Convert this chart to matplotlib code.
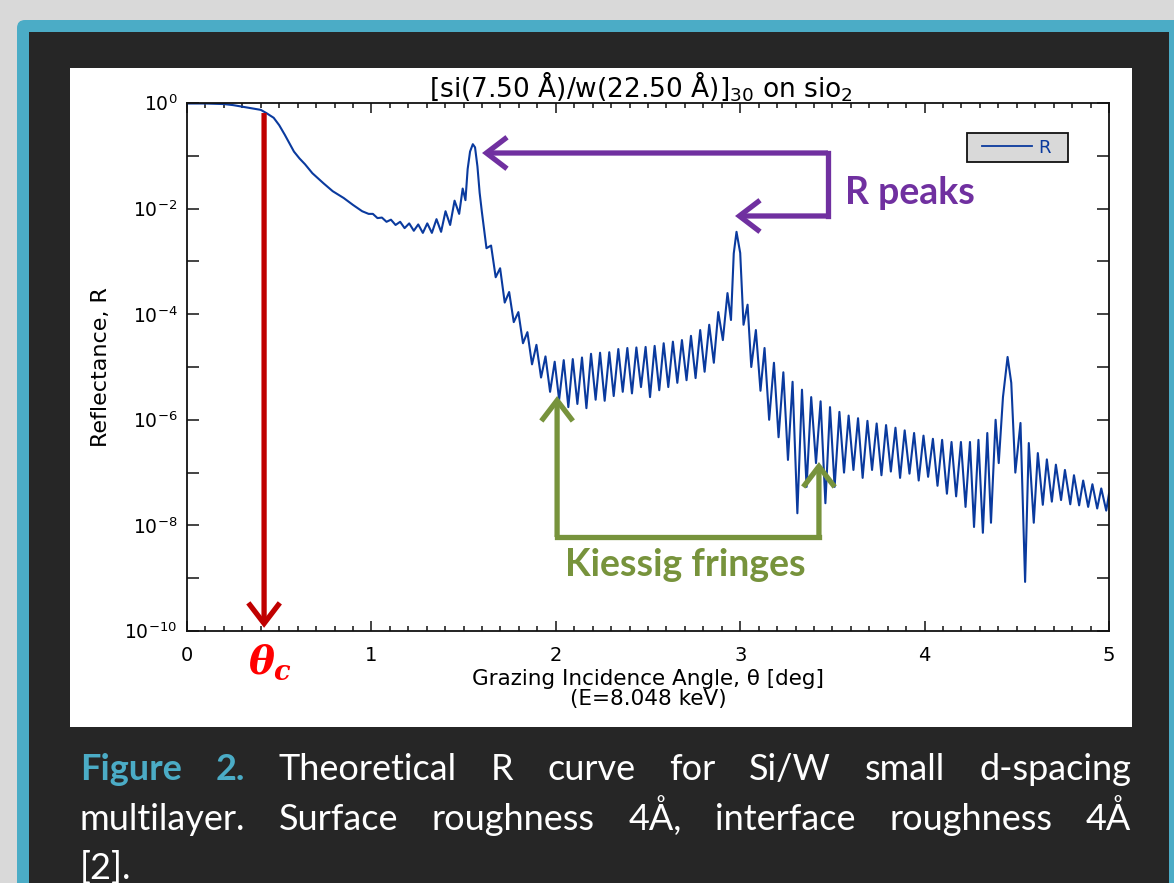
import matplotlib
matplotlib.use("Agg")
import numpy as np
import matplotlib.pyplot as plt
from matplotlib.patches import FancyBboxPatch, Rectangle
from matplotlib.ticker import MultipleLocator, NullLocator, FixedLocator, FixedFormatter
from matplotlib.legend_handler import HandlerLine2D

# ---------------- data ----------------
# total-reflection plateau and fall-off (degrees, log10 R)
theta_total = [0.00, 0.10, 0.20, 0.25, 0.30, 0.35, 0.40, 0.43, 0.47, 0.50, 0.53, 0.555,
               0.58, 0.61, 0.64, 0.68, 0.74, 0.79, 0.85, 0.90, 0.95, 0.985]
logR_total = [-0.01, -0.01, -0.02, -0.04, -0.07, -0.10, -0.13, -0.19, -0.28, -0.42, -0.60, -0.76,
              -0.92, -1.05, -1.16, -1.33, -1.52, -1.67, -1.80, -1.93, -2.05, -2.10]

# fringes up to first Bragg peak
theta_seg1 = [1.008, 1.033, 1.057, 1.082, 1.106, 1.131, 1.156, 1.180, 1.205, 1.230,
              1.254, 1.279, 1.303, 1.328, 1.353, 1.378, 1.402, 1.427, 1.451, 1.476,
              1.495, 1.510, 1.522, 1.535, 1.550]
logR_seg1 = [-2.10, -2.18, -2.17, -2.25, -2.21, -2.31, -2.25, -2.37, -2.28, -2.42,
             -2.30, -2.46, -2.28, -2.46, -2.20, -2.44, -2.05, -2.31, -1.85, -2.10,
             -1.62, -1.84, -1.25, -0.92, -0.78]

# Kiessig fringes between first and second Bragg peak
theta_seg2 = [1.562, 1.575, 1.587, 1.599, 1.624, 1.649, 1.674, 1.698, 1.723, 1.747,
              1.772, 1.797, 1.822, 1.846, 1.871, 1.895, 1.920, 1.944, 1.969, 1.994,
              2.018, 2.043, 2.068, 2.092, 2.117, 2.142, 2.166, 2.191, 2.216, 2.240,
              2.265, 2.290, 2.314, 2.339, 2.363, 2.388, 2.413, 2.437, 2.462, 2.487,
              2.511, 2.536, 2.561, 2.585, 2.610, 2.635, 2.659, 2.684, 2.709, 2.733,
              2.758, 2.783, 2.807, 2.832, 2.857, 2.881, 2.906, 2.931, 2.950, 2.965,
              2.980]
logR_seg2 = [-0.84, -1.20, -1.70, -2.06, -2.75, -2.70, -3.30, -3.13, -3.78, -3.58,
             -4.15, -3.96, -4.55, -4.34, -4.95, -4.58, -5.20, -4.80, -5.47, -4.90,
             -5.62, -4.87, -5.76, -4.85, -5.70, -4.82, -5.78, -4.75, -5.62, -4.73,
             -5.64, -4.72, -5.55, -4.66, -5.47, -4.64, -5.50, -4.63, -5.38, -4.62,
             -5.57, -4.60, -5.44, -4.55, -5.38, -4.52, -5.30, -4.49, -5.25, -4.41,
             -5.21, -4.30, -5.09, -4.20, -4.92, -3.96, -4.49, -3.60, -4.11, -2.85,
             -2.44]

# Kiessig fringes between second and third Bragg peak
theta_seg3 = [3.000, 3.018, 3.040, 3.060, 3.085, 3.110, 3.132, 3.157, 3.183, 3.208,
              3.234, 3.259, 3.284, 3.310, 3.335, 3.360, 3.385, 3.411, 3.436, 3.462,
              3.487, 3.512, 3.538, 3.563, 3.588, 3.614, 3.639, 3.664, 3.690, 3.715,
              3.740, 3.766, 3.791, 3.817, 3.842, 3.867, 3.892, 3.918, 3.943, 3.968,
              3.994, 4.019, 4.045, 4.070, 4.095, 4.121, 4.146, 4.171, 4.197, 4.222,
              4.246, 4.268, 4.292, 4.316, 4.340, 4.360, 4.385, 4.402, 4.425, 4.450]
logR_seg3 = [-2.84, -4.20, -3.82, -5.00, -4.30, -5.45, -4.64, -6.00, -4.92, -6.33,
             -5.10, -6.76, -5.28, -7.77, -5.43, -7.27, -5.57, -6.82, -5.65, -7.58,
             -5.76, -7.27, -5.85, -7.00, -5.92, -6.95, -5.97, -7.10, -6.02, -6.95,
             -6.07, -7.05, -6.10, -6.98, -6.15, -7.10, -6.20, -7.02, -6.25, -7.15,
             -6.30, -7.08, -6.36, -7.25, -6.38, -7.40, -6.42, -7.45, -6.42, -7.65,
             -6.42, -8.03, -6.38, -8.14, -6.25, -7.95, -6.00, -6.82, -5.57, -4.81]

# tail after third Bragg peak
theta_seg4 = [4.470, 4.492, 4.520, 4.545, 4.565, 4.592, 4.614, 4.641, 4.663, 4.690,
              4.712, 4.740, 4.761, 4.790, 4.810, 4.838, 4.860, 4.887, 4.910, 4.936,
              4.958, 4.985, 5.000]
logR_seg4 = [-5.30, -7.00, -6.06, -9.07, -6.44, -7.95, -6.63, -7.61, -6.75, -7.55,
             -6.85, -7.52, -6.95, -7.60, -7.05, -7.62, -7.15, -7.65, -7.22, -7.68,
             -7.30, -7.72, -7.40]

x_ticks = [0, 1, 2, 3, 4, 5]
x_ticklabels = ["0", "1", "2", "3", "4", "5"]
y_decades = list(range(0, -11, -1))
y_ticklabels = [r"$10^{%d}$" % d if d % 2 == 0 else "" for d in y_decades]

title = r"[si(7.50 Å)/w(22.50 Å)]$_{30}$ on sio$_2$"
xlabel = "Grazing Incidence Angle, θ [deg]\n(E=8.048 keV)"
ylabel = "Reflectance, R"

caption_line1 = ["Figure", "2.", "Theoretical", "R", "curve", "for", "Si/W", "small", "d-spacing"]
caption_line2 = ["multilayer.", "Surface", "roughness", "4Å,", "interface", "roughness", "4Å"]
caption_line3 = ["[2]."]

# ---------------- style ----------------
W, H = 1174, 883
plt.rcParams["mathtext.fontset"] = "custom"
plt.rcParams["mathtext.rm"] = "DejaVu Sans"
plt.rcParams["mathtext.it"] = "DejaVu Serif:italic:bold"
plt.rcParams["mathtext.bf"] = "DejaVu Sans:bold"

BG = "#d9d9d9"
TEAL = "#4bacc6"
DARK = "#262626"
LINE = "#0a3a9e"
RED = "#c00000"
PURPLE = "#7030a0"
GREEN = "#77933c"

fig = plt.figure(figsize=(W / 100, H / 100), dpi=100, facecolor=BG)

# slide-like frame
fig.add_artist(FancyBboxPatch((0.17, -0.5), 12.0, 8.63 + 0.5,
                              boxstyle="round,pad=0,rounding_size=0.08",
                              transform=fig.dpi_scale_trans, fc=TEAL, ec="none", zorder=-10))
fig.add_artist(Rectangle((0.29, -0.5), 11.40, 8.51 + 0.5, transform=fig.dpi_scale_trans,
                         fc=DARK, ec="none", zorder=-9))
fig.add_artist(Rectangle((0.70, 1.56), 10.62, 6.59, transform=fig.dpi_scale_trans,
                         fc="white", ec="none", zorder=-8))

ax = fig.add_axes([187 / W, 1 - 631 / H, 922 / W, 528 / H])
ax.set_facecolor("white")

theta_all = np.concatenate([theta_total, theta_seg1, theta_seg2, theta_seg3, theta_seg4])
R_all = 10.0 ** np.concatenate([logR_total, logR_seg1, logR_seg2, logR_seg3, logR_seg4])

line, = ax.plot(theta_all, R_all, color=LINE, lw=1.5, label="R")

ax.set_yscale("log")
ax.set_xlim(0, 5)
ax.set_ylim(1e-10, 1)

ax.xaxis.set_major_locator(FixedLocator(x_ticks))
ax.xaxis.set_major_formatter(FixedFormatter(x_ticklabels))
ax.xaxis.set_minor_locator(MultipleLocator(0.1))
ax.yaxis.set_major_locator(FixedLocator([10.0 ** d for d in y_decades]))
ax.yaxis.set_major_formatter(FixedFormatter(y_ticklabels))
ax.yaxis.set_minor_locator(NullLocator())

ax.tick_params(which="both", direction="in", top=True, right=True, width=1.1, color="#111111")
ax.tick_params(axis="x", which="major", length=7.5, pad=11, labelsize=14)
ax.tick_params(axis="x", which="minor", length=3.5)
ax.tick_params(axis="y", which="major", length=8.5, pad=7, labelsize=13.5)
for s in ax.spines.values():
    s.set_linewidth(1.3)
    s.set_color("#111111")

ax.set_title(title, fontsize=19, pad=1, x=0.4925)
ax.set_xlabel(xlabel, fontsize=15.5, linespacing=0.95, labelpad=3)
ax.set_ylabel(ylabel, fontsize=16, labelpad=10)

leg = ax.legend(handles=[line], labels=["R  "], loc="upper right", bbox_to_anchor=(0.9555, 0.943),
                borderaxespad=0, frameon=True, fancybox=False, facecolor="#d9d9d9",
                edgecolor="#111111", framealpha=1, handlelength=3.3, handletextpad=0.35,
                borderpad=0.3, fontsize=13, labelcolor=LINE,
                handler_map={line: HandlerLine2D(xpad=0.5)})
leg.get_frame().set_linewidth(1.3)
for h in leg.legend_handles:
    h.set_linewidth(1.3)

# ---------------- annotations ----------------
def arrow(x0, y0, x1, y1, color):
    ax.annotate("", xy=(x1, 10 ** y1), xytext=(x0, 10 ** y0),
                arrowprops=dict(arrowstyle="->,head_length=0.55,head_width=0.42", lw=3.8,
                                color=color, shrinkA=0, shrinkB=0, mutation_scale=27,
                                capstyle="butt", joinstyle="miter"),
                annotation_clip=False)

arrow(0.418, -0.19, 0.418, -9.94, RED)
ax.text(0.45, 10 ** -10.59, r"$\theta_c$", color="#ff0000", fontsize=28,
        ha="center", va="center", clip_on=False)

arrow(3.476, -0.947, 1.600, -0.947, PURPLE)
ax.plot([3.476, 3.476], [10 ** -0.947, 10 ** -2.14], color=PURPLE, lw=3.8,
        solid_capstyle="projecting")
arrow(3.476, -2.14, 2.972, -2.14, PURPLE)
ax.text(3.568, 10 ** -1.70, "R peaks", color=PURPLE, fontsize=27, family="Lato",
        weight="bold", ha="left", va="center")

arrow(2.007, -8.22, 2.007, -5.55, GREEN)
ax.plot([2.007, 3.427], [10 ** -8.22, 10 ** -8.22], color=GREEN, lw=3.8,
        solid_capstyle="projecting")
arrow(3.427, -8.22, 3.427, -6.80, GREEN)
ax.text(2.70, 10 ** -8.75, "Kiessig fringes", color=GREEN, fontsize=27, family="Lato",
        weight="bold", ha="center", va="center")

# ---------------- caption (justified) ----------------
renderer = fig.canvas.get_renderer()
CAP_SIZE = 26

def caption(words, baseline_px, x0, x1, justify=True, n_teal=0):
    texts = []
    for i, w in enumerate(words):
        teal = i < n_teal
        t = fig.text(0, 1 - baseline_px / H, w, color=TEAL if teal else "white",
                     fontsize=CAP_SIZE, family="Lato", weight="bold" if teal else "normal",
                     ha="left", va="baseline")
        texts.append(t)
    widths = [t.get_window_extent(renderer).width for t in texts]
    if justify and len(words) > 1:
        gap = (x1 - x0 - sum(widths)) / (len(words) - 1)
    else:
        gap = 9
    x = x0
    for t, w in zip(texts, widths):
        t.set_x(x / W)
        x += w + gap

caption(caption_line1, 780, 80, 1131, n_teal=2)
caption(caption_line2, 830, 80, 1131)
caption(caption_line3, 879, 80, 1131, justify=False)

fig.savefig("out.png", dpi=100, facecolor=BG)
